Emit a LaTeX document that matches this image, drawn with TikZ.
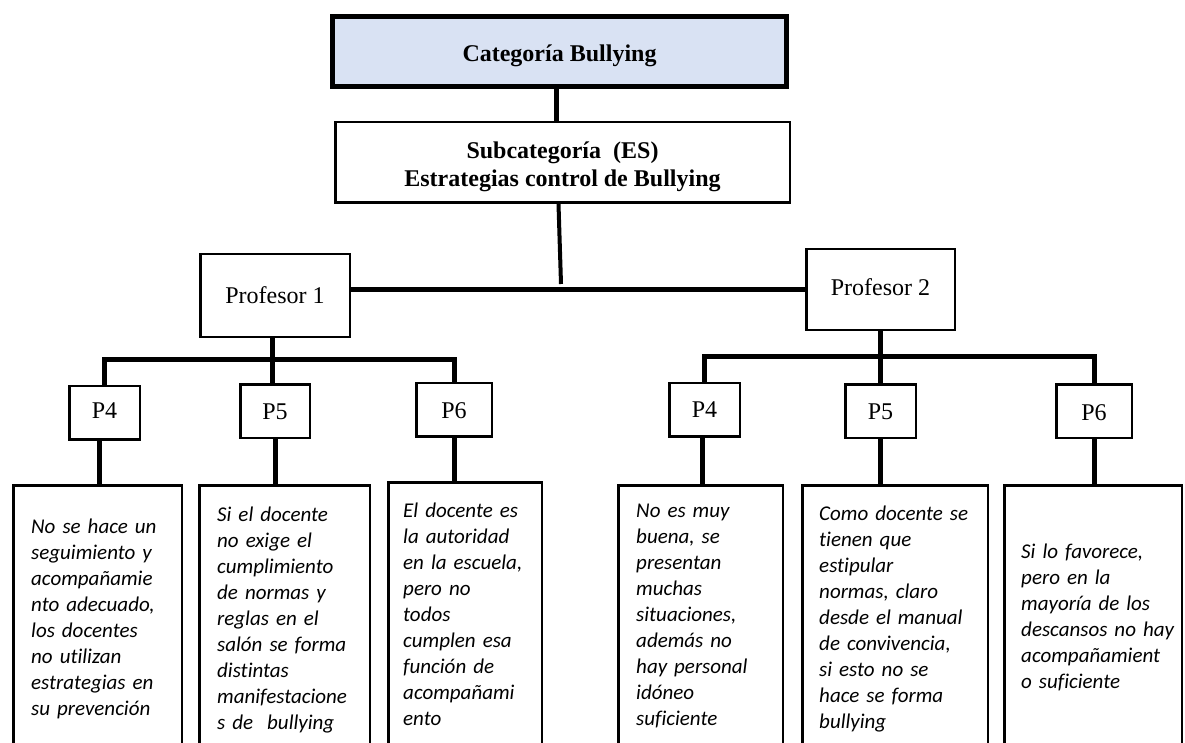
\documentclass[tikz,border=0pt]{standalone}
\usepackage{fontspec}
\setmainfont{Liberation Serif}
\newfontfamily\calfont[Ligatures={NoCommon,NoRare}]{Carlito}
\definecolor{catfill}{HTML}{D9E2F3}
\begin{document}
\begin{tikzpicture}[x=1pt,y=-1pt,
  box/.style={draw, line width=2.5pt, inner sep=0pt, text depth=0pt, font=\fontsize{24}{28}\selectfont},
  conn/.style={line width=5pt},
  pbox/.style={box, minimum height=53.5pt},
  ans/.style={draw, line width=2.5pt, anchor=north, minimum height=300pt, inner sep=0pt},
  txt/.style={anchor=north west, inner sep=0pt, align=left, text width=190pt, font=\fontsize{21}{26}\selectfont\calfont\itshape}
]
\useasboundingbox (0,0) rectangle (1185,743);
\fill[white] (0,0) rectangle (1185,743);

% top levels
\node[box, line width=5pt, fill=catfill, minimum width=454pt, minimum height=70pt, text height=21pt, font=\fontsize{24}{28}\selectfont\bfseries] (cat) at (559.5,51.5) {Categoría Bullying};
\node[box, minimum width=454.5pt, minimum height=80.5pt] (sub) at (562.5,162.5) {};
\node[anchor=north, inner sep=0pt, align=center, font=\fontsize{24}{28}\selectfont\bfseries] (subt) at (562.5,138) {\rule{0pt}{20pt}Subcategoría\ \ (ES)\\Estrategias control de Bullying};

\node[box, minimum width=149.5pt, minimum height=82.5pt, text height=15pt] (p1) at (275,295.5) {Profesor 1};
\node[box, minimum width=148.5pt, minimum height=80.5pt, text height=11pt] (p2) at (880.5,289.5) {Profesor 2};

% question boxes
\node[pbox, minimum width=70.5pt, text height=12pt] (p4l) at (104.5,412.5) {P4};
\node[pbox, minimum width=69.5pt, text height=17pt] (p5l) at (275,411.3) {P5};
\node[pbox, minimum width=75.5pt, text height=18pt] (p6l) at (454,409.7) {P6};
\node[pbox, minimum width=70.5pt, text height=15pt] (p4r) at (704.5,409.7) {P4};
\node[pbox, minimum width=70.5pt, text height=17pt] (p5r) at (880.5,411.3) {P5};
\node[pbox, minimum width=75.5pt, text height=18pt] (p6r) at (1094,411) {P6};

% answer boxes
\node[ans, minimum width=168.5pt] (a1) at (97.5,484.25) {};
\node[ans, minimum width=170.5pt] (a2) at (284.5,484.25) {};
\node[ans, minimum width=153.5pt] (a3) at (465,481.25) {};
\node[ans, minimum width=164.5pt] (a4) at (700.5,484.25) {};
\node[ans, minimum width=185.5pt] (a5) at (895,484.25) {};
\node[ans, minimum width=177.5pt] (a6) at (1093,484.25) {};

\node[txt] (t1) at (31,515) {\rule{0pt}{18pt}No se hace un\\seguimiento y\\acompañamie\\nto adecuado,\\los docentes\\no utilizan\\estrategias en\\su prevención};
\node[txt] (t2) at (217,503) {\rule{0pt}{18pt}Si el docente\\no exige el\\cumplimiento\\de normas y\\reglas en el\\salón se forma\\distintas\\manifestacione\\s de\ \ bullying};
\node[txt] (t3) at (403,499) {\rule{0pt}{18pt}El docente es\\la autoridad\\en la escuela,\\pero no\\todos\\cumplen esa\\función de\\acompañami\\ento};
\node[txt] (t4) at (636,499) {\rule{0pt}{18pt}No es muy\\buena, se\\presentan\\muchas\\situaciones,\\además no\\hay personal\\idóneo\\suficiente};
\node[txt] (t5) at (819,502) {\rule{0pt}{18pt}Como docente se\\tienen que\\estipular\\normas, claro\\desde el manual\\de convivencia,\\si esto no se\\hace se forma\\bullying};
\node[txt] (t6) at (1021,540) {\rule{0pt}{18pt}Si lo favorece,\\pero en la\\mayoría de los\\descansos no hay\\acompañamient\\o suficiente};

% connectors
\coordinate (j) at (561,284);
\coordinate (bl) at (0,359);
\coordinate (br) at (0,356);
\draw[conn] ([xshift=-3.5pt]cat.south) -- ([xshift=-3.5pt]cat.south |- sub.north);
\draw[line width=4pt] ([xshift=-4pt]sub.south) -- (j);
\draw[conn] (p1.east |- p2.west) -- (p2.west);

\draw[conn] ([xshift=-3pt]p1.south) -- ([xshift=-3pt]p1.south |- bl);
\draw[conn] (p4l.north) -- (p4l.north |- bl) -- (p6l.north |- bl) -- (p6l.north);
\draw[conn] ([xshift=-3pt]p5l.north) -- ([xshift=-3pt]p5l.north |- bl);

\draw[conn] (p2.south) -- (p2.south |- br);
\draw[conn] (p4r.north) -- (p4r.north |- br) -- (p6r.north |- br) -- (p6r.north);
\draw[conn] (p5r.north) -- (p5r.north |- br);

\draw[conn] ([xshift=-5pt]p4l.south) -- ([xshift=-5pt]p4l.south |- a1.north);
\draw[conn] (p5l.south) -- (p5l.south |- a2.north);
\draw[conn] (p6l.south) -- (p6l.south |- a3.north);
\draw[conn] ([xshift=-2pt]p4r.south) -- ([xshift=-2pt]p4r.south |- a4.north);
\draw[conn] (p5r.south) -- (p5r.south |- a5.north);
\draw[conn] (p6r.south) -- (p6r.south |- a6.north);
\end{tikzpicture}
\end{document}
